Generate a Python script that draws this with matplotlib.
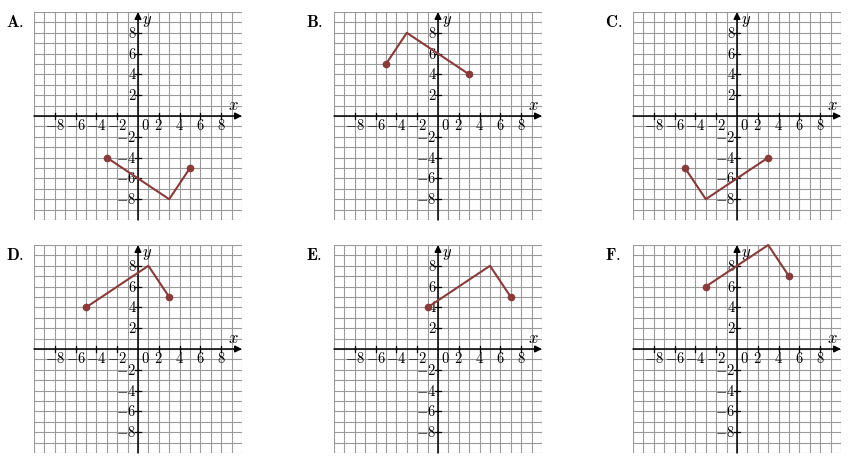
import matplotlib
matplotlib.use('Agg')
import matplotlib.pyplot as plt

plt.rcParams['mathtext.fontset'] = 'cm'

LINE = '#8b3a3a'
GRID = '#9a9a9a'

# ── Data: each option is a 3-point broken line ────────────────
labels   = ['A.', 'B.', 'C.', 'D.', 'E.', 'F.']
xs_A = [-3, 3, 5];  ys_A = [-4, -8, -5]
xs_B = [-5, -3, 3]; ys_B = [5, 8, 4]
xs_C = [-5, -3, 3]; ys_C = [-5, -8, -4]
xs_D = [-5, 1, 3];  ys_D = [4, 8, 5]
xs_E = [-1, 5, 7];  ys_E = [4, 8, 5]
xs_F = [-3, 3, 5];  ys_F = [6, 10, 7]
series = [(xs_A, ys_A), (xs_B, ys_B), (xs_C, ys_C),
          (xs_D, ys_D), (xs_E, ys_E), (xs_F, ys_F)]

tick_vals = [-8, -6, -4, -2, 2, 4, 6, 8]
grid_vals = list(range(-10, 11))

fig = plt.figure(figsize=(8.53, 4.67), dpi=100)

W, H = 853, 467
lefts   = [34, 334, 633]
tops    = [12, 245]
size_px = 208

def draw_panel(ax, xs, ys):
    ax.set_xlim(-10, 10)
    ax.set_ylim(-10, 10)
    ax.axis('off')
    for g in grid_vals:
        ax.plot([g, g], [-10, 10], color=GRID, lw=0.8, zorder=1)
        ax.plot([-10, 10], [g, g], color=GRID, lw=0.8, zorder=1)
    # axes with arrows
    ax.annotate('', xy=(10, 0), xytext=(-10, 0),
                arrowprops=dict(arrowstyle='-|>', color='black', lw=1.1,
                                mutation_scale=10, shrinkA=0, shrinkB=0), zorder=3)
    ax.annotate('', xy=(0, 10), xytext=(0, -10),
                arrowprops=dict(arrowstyle='-|>', color='black', lw=1.1,
                                mutation_scale=10, shrinkA=0, shrinkB=0), zorder=3)
    for t in tick_vals:
        ax.plot([t, t], [-0.25, 0.25], color='black', lw=0.9, zorder=3)
        ax.plot([-0.25, 0.25], [t, t], color='black', lw=0.9, zorder=3)
        ax.text(t, -0.95, f'${t}$', ha='center', va='center', fontsize=10.5,
                color='black', zorder=4)
        ax.text(-0.15, t - 0.05, f'${t}$', ha='right', va='center', fontsize=10.5,
                color='black', zorder=4)
    ax.text(0.67, -0.95, '$0$', ha='center', va='center', fontsize=10.5,
            color='black', zorder=4)
    ax.text(9.2, 1.1, '$x$', ha='center', va='center', fontsize=12, zorder=4)
    ax.text(0.9, 9.2, '$y$', ha='center', va='center', fontsize=12, zorder=4)
    # the broken line
    ax.plot(xs, ys, color=LINE, lw=1.5, zorder=5, clip_on=False)
    ax.plot([xs[0], xs[-1]], [ys[0], ys[-1]], 'o', color=LINE, ms=4.5,
            zorder=6, clip_on=False)

for i, (lab, (xs, ys)) in enumerate(zip(labels, series)):
    r, c = divmod(i, 3)
    l = lefts[c]
    t = tops[r]
    ax = fig.add_axes([l / W, 1 - (t + size_px) / H, size_px / W, size_px / H])
    draw_panel(ax, xs, ys)
    fig.text((l - 28) / W, 1 - (t + 10) / H, r'$\mathbf{' + lab + '}$',
             ha='left', va='center', fontsize=12)

plt.savefig('out.png', dpi=100)
plt.close()
